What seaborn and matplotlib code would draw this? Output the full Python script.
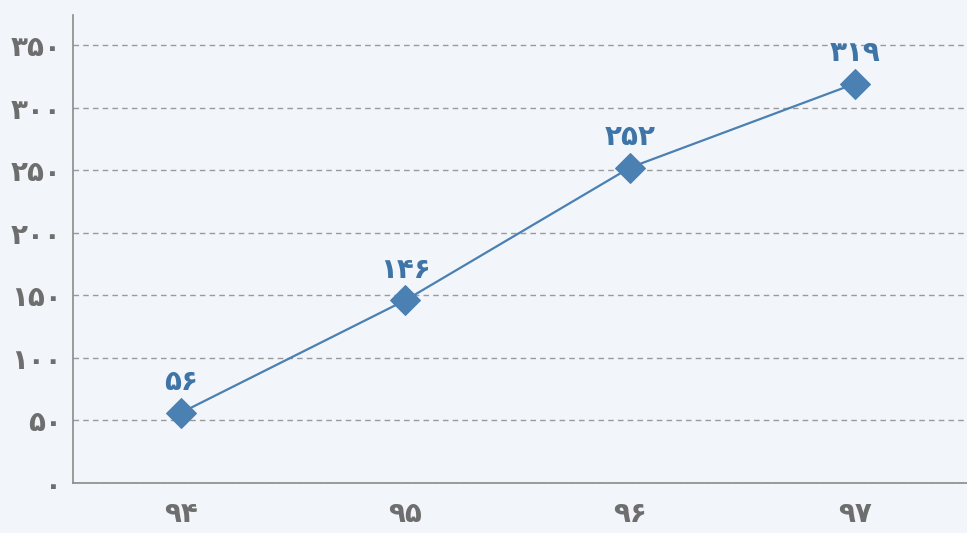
import pandas as pd
import matplotlib.pyplot as plt
import seaborn as sns

sns.set_style('white')
plt.rcParams['font.family'] = ['DejaVu Sans']

years = ['۹۴', '۹۵', '۹۶', '۹۷']
values = [56, 146, 252, 319]
value_labels = ['۵۶', '۱۴۶', '۲۵۲', '۳۱۹']
y_ticks = [0, 50, 100, 150, 200, 250, 300, 350]
y_tick_labels = ['۰', '۵۰', '۱۰۰', '۱۵۰', '۲۰۰', '۲۵۰', '۳۰۰', '۳۵۰']

df = pd.DataFrame({'year': years, 'value': values})

bg = '#f2f6fa'
line_color = '#4a80b2'
fig = plt.figure(figsize=(9.67, 5.33), dpi=100, facecolor=bg)
ax = fig.add_axes([0.0755, 0.094, 0.9245, 0.878])
ax.set_facecolor(bg)

sns.lineplot(data=df, x='year', y='value', ax=ax, color=line_color,
             linewidth=1.6, marker='D', markersize=15,
             markeredgecolor=line_color, sort=False)

for i, (v, lab) in enumerate(zip(values, value_labels)):
    ax.annotate(lab, (i, v), xytext=(0, 12), textcoords='offset points',
                ha='center', va='bottom', fontsize=20, fontweight='bold',
                color='#3f74a6')

ax.set_xlim(-0.48, 3.5)
ax.set_ylim(0, 374)
ax.set_yticks(y_ticks)
ax.set_yticklabels(y_tick_labels)
ax.yaxis.grid(True, linestyle=(0, (4, 3)), color='#9a9a9a', linewidth=1)
ax.xaxis.grid(False)
ax.set_axisbelow(True)
ax.tick_params(axis='both', length=0, labelsize=20, labelcolor='#6e6e6e')
ax.tick_params(axis='x', pad=12)
ax.tick_params(axis='y', pad=8)
for t in ax.get_xticklabels() + ax.get_yticklabels():
    t.set_fontweight('bold')
ax.set_xlabel('')
ax.set_ylabel('')

for s in ['top', 'right']:
    ax.spines[s].set_visible(False)
for s in ['left', 'bottom']:
    ax.spines[s].set_color('#8a8a8a')
    ax.spines[s].set_linewidth(1.2)

plt.savefig('out.png', dpi=100, facecolor=bg)
